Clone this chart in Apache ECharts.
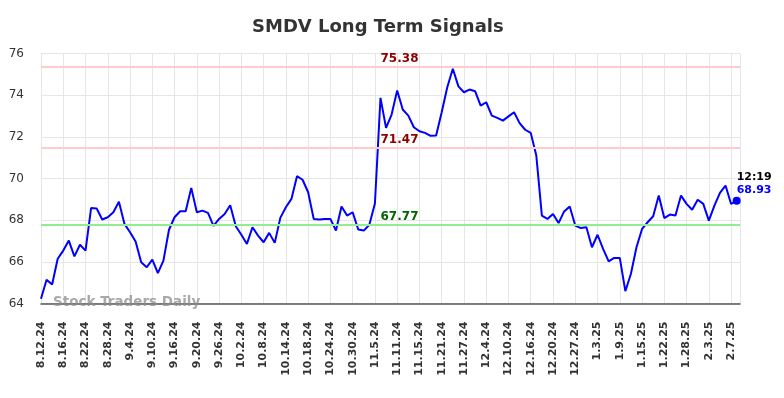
<!DOCTYPE html>
<html>
<head>
<meta charset="utf-8">
<script src="https://cdn.jsdelivr.net/npm/echarts@6/dist/echarts.min.js"></script>
<style>html,body{margin:0;padding:0;background:#fff}#c{width:784px;height:398px}</style>
</head>
<body>
<div id="c"></div>
<script>
const tickLabels = ['8.12.24','8.16.24','8.22.24','8.28.24','9.4.24','9.10.24','9.16.24','9.20.24','9.26.24','10.2.24','10.8.24','10.14.24','10.18.24','10.24.24','10.30.24','11.5.24','11.11.24','11.15.24','11.21.24','11.27.24','12.4.24','12.10.24','12.16.24','12.20.24','12.27.24','1.3.25','1.9.25','1.15.25','1.22.25','1.28.25','2.3.25','2.7.25'];
const values = [64.23, 65.14, 64.91, 66.15, 66.54, 67.02, 66.26, 66.82, 66.54, 68.58,
68.56, 68.03, 68.14, 68.38, 68.88, 67.82, 67.42, 66.98, 65.98, 65.74,
66.11, 65.46, 66.06, 67.54, 68.14, 68.43, 68.43, 69.55, 68.38, 68.46,
68.35, 67.73, 68.06, 68.30, 68.72, 67.71, 67.30, 66.86, 67.66, 67.26,
66.94, 67.39, 66.91, 68.11, 68.62, 69.02, 70.11, 69.94, 69.34, 68.06,
68.03, 68.06, 68.06, 67.50, 68.66, 68.22, 68.38, 67.55, 67.50, 67.78,
68.80, 73.87, 72.43, 73.07, 74.22, 73.31, 73.02, 72.46, 72.27, 72.19,
72.05, 72.06, 73.18, 74.38, 75.27, 74.42, 74.14, 74.27, 74.19, 73.50,
73.66, 73.02, 72.91, 72.78, 72.98, 73.18, 72.66, 72.34, 72.19, 71.10,
68.22, 68.06, 68.30, 67.86, 68.42, 68.66, 67.74, 67.62, 67.66, 66.70,
67.30, 66.62, 66.02, 66.19, 66.19, 64.59, 65.43, 66.70, 67.58, 67.90,
68.19, 69.18, 68.10, 68.27, 68.22, 69.18, 68.78, 68.50, 68.98, 68.78,
67.98, 68.70, 69.31, 69.66, 68.78, 68.93];
const resistanceLevels = [75.38, 71.47];
const supportLevels = [67.77];
const lastTime = '12:19';
const lastValue = 68.93;
const daysPerTick = 4;

const seriesData = values.map((v, i) => [i, v]);
const chart = echarts.init(document.getElementById('c'));
const FF = 'DejaVu Sans';
const lineLabel = (color) => ({
  show: true, position: 'insideMiddleTop', distance: 2, offset: [9, 0],
  formatter: (p) => p.value.toFixed(2), color: color,
  fontFamily: FF, fontWeight: 'bold', fontSize: 12
});
chart.setOption({
  animation: false,
  title: {
    text: 'SMDV Long Term Signals', left: 247, top: 13,
    textStyle: { fontFamily: FF, fontWeight: 'bold', fontSize: 18, color: '#333' }
  },
  grid: { left: 41, right: 44, top: 53.5, bottom: 94.5 },
  xAxis: {
    type: 'value', min: 0, max: values.length - 1 + 0.6, interval: daysPerTick,
    axisLine: { show: true, lineStyle: { color: '#555', width: 1.5 } },
    axisTick: { show: false },
    splitLine: { show: true, lineStyle: { color: '#e6e6e6', width: 1 } },
    axisLabel: {
      rotate: 90, margin: 18, fontFamily: FF, fontWeight: 'bold', fontSize: 11, color: '#333',
      showMaxLabel: false,
      formatter: (v) => (v % daysPerTick === 0 ? (tickLabels[v / daysPerTick] || '') : '')
    }
  },
  yAxis: {
    type: 'value', min: 64, max: 76, interval: 2,
    axisLine: { show: false }, axisTick: { show: false },
    splitLine: { lineStyle: { color: '#e6e6e6', width: 1 } },
    axisLabel: { margin: 17, fontFamily: FF, fontSize: 12, color: '#333' }
  },
  graphic: [{
    type: 'text', left: 53, top: 295, z: 100,
    style: { text: 'Stock Traders Daily', fontFamily: FF, fontWeight: 'bold', fontSize: 13.5, fill: 'rgba(140,140,140,0.75)' }
  }],
  series: [{
    type: 'line', data: seriesData, showSymbol: false,
    lineStyle: { color: '#0000ff', width: 2 }, itemStyle: { color: '#0000ff' },
    markLine: {
      symbol: 'none', silent: true,
      data: resistanceLevels.map(v => ({ yAxis: v, lineStyle: { color: '#ffcccc', width: 2, type: 'solid' }, label: lineLabel('#8b0000') }))
        .concat(supportLevels.map(v => ({ yAxis: v, lineStyle: { color: '#90ee90', width: 2, type: 'solid' }, label: lineLabel('#006400') })))
    },
    markPoint: {
      symbol: 'circle', symbolSize: 8, silent: true,
      itemStyle: { color: '#0000ff' },
      data: [{ coord: [values.length - 1, lastValue],
        label: {
          show: true, position: [4, -26], align: 'left', verticalAlign: 'top',
          formatter: '{t|' + lastTime + '}\n{v|' + lastValue.toFixed(2) + '}',
          rich: {
            t: { fontFamily: FF, fontWeight: 'bold', fontSize: 11, color: '#000', lineHeight: 13 },
            v: { fontFamily: FF, fontWeight: 'bold', fontSize: 11, color: '#0000ff', lineHeight: 13 }
          }
        } }]
    }
  }]
});
</script>
</body>
</html>
